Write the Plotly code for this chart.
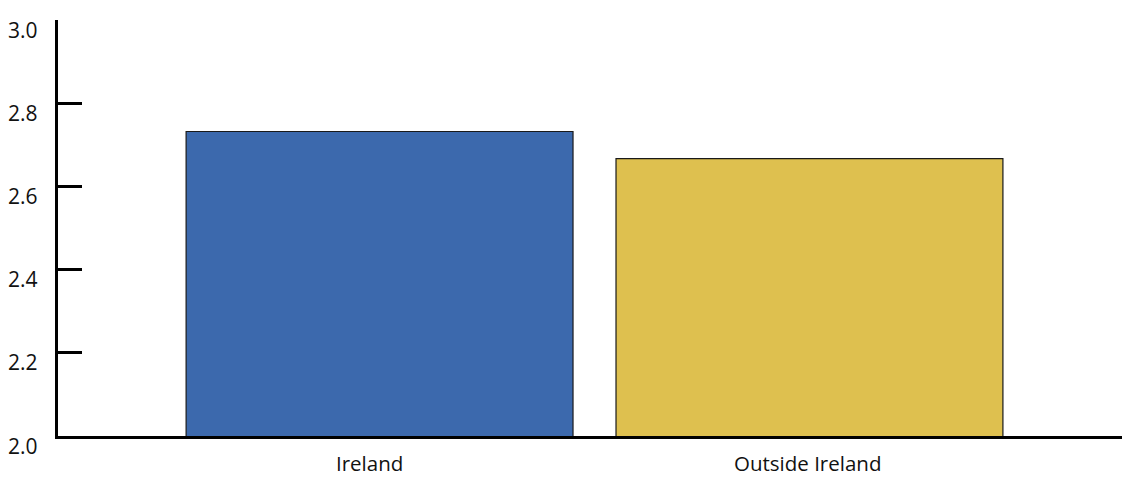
import plotly.graph_objects as go

categories = ["Ireland", "Outside Ireland"]
values = [2.732, 2.667]
bar_colors = ["#3C69AD", "#DEC04F"]
y_tickvals = [2.0, 2.2, 2.4, 2.6, 2.8, 3.0]
y_ticktext = ["2.0", "2.2", "2.4", "2.6", "2.8", "3.0"]
x_label_shift = [-10, -2]

FONT = "Open Sans"

fig = go.Figure()
fig.add_trace(go.Bar(
    x=categories, y=values, width=0.9,
    marker=dict(color=bar_colors, line=dict(color="#1a1a1a", width=1.2)),
    hoverinfo="skip",
))

annotations = []
for v, t in zip(y_tickvals, y_ticktext):
    annotations.append(dict(
        x=0, xref="paper", y=v, yref="y", text=t, showarrow=False,
        xanchor="right", yanchor="middle", xshift=-18, yshift=-9.5,
        font=dict(family=FONT, size=21, color="#111111"),
    ))
for c, s in zip(categories, x_label_shift):
    annotations.append(dict(
        x=c, xref="x", y=0, yref="paper", text=c, showarrow=False,
        xanchor="center", yanchor="top", xshift=s, yshift=-12,
        borderpad=0,
        font=dict(family=FONT, size=20.5, color="#111111"),
    ))

fig.update_layout(
    width=1122, height=478,
    margin=dict(l=58, r=0, t=20, b=42),
    paper_bgcolor="white", plot_bgcolor="white",
    showlegend=False,
    annotations=annotations,
    font=dict(family=FONT, size=21, color="#111111"),
    xaxis=dict(
        type="category", range=[-0.748, 1.727],
        showline=True, linecolor="black", linewidth=3,
        showgrid=False, zeroline=False, ticks="",
        showticklabels=False,
    ),
    yaxis=dict(
        range=[2.0, 3.0], tickvals=y_tickvals, showticklabels=False,
        showline=True, linecolor="black", linewidth=3,
        ticks="inside", ticklen=24, tickwidth=3, tickcolor="black",
        showgrid=False, zeroline=False,
    ),
    bargap=0.1,
)

fig.write_html(
    "out.html",
    config={"displayModeBar": False},
    post_script="document.body.style.margin='0';document.body.style.overflow='hidden';",
)
